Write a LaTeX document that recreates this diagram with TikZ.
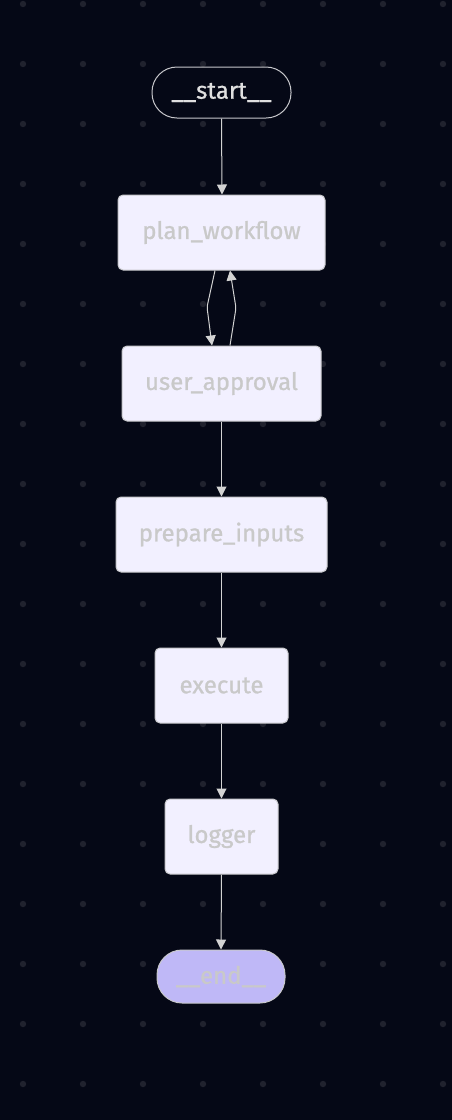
\documentclass[tikz,border=0pt]{standalone}
\usepackage{fontspec}
\newfontfamily\nodefont{Fira Sans}[FakeBold=0.9]
\usetikzlibrary{arrows.meta,calc}
\definecolor{bg}{HTML}{050816}
\definecolor{dotc}{HTML}{20222E}
\definecolor{nodefill}{HTML}{F2F0FF}
\definecolor{nodeline}{HTML}{C8C8CC}
\definecolor{nodetext}{HTML}{C9C9C9}
\definecolor{endfill}{HTML}{BFB8F7}
\definecolor{edgec}{HTML}{D3D3D3}
\begin{document}
\begin{tikzpicture}[x=1pt,y=-1pt,
  box/.style={draw=nodeline, line width=1pt, fill=nodefill, rounded corners=5pt,
    minimum height=75pt, text=nodetext, font=\nodefont\fontsize{24}{28}\selectfont, inner sep=0pt},
  term/.style={draw=nodeline, line width=1pt, rounded corners=25pt,
    text=nodetext, font=\nodefont\fontsize{24}{28}\selectfont, inner sep=0pt},
  edge/.style={draw=edgec, line width=1pt, -{Triangle[length=10pt,width=10pt]}, rounded corners=2pt}]
\fill[bg] (0,0) rectangle (452,1120);
\useasboundingbox (0,0) rectangle (452,1120);
\foreach \i in {0,...,7}{
  \foreach \j in {0,...,18}{
    \fill[dotc] (23+60*\i,4+60*\j) circle (3.2);
  }
}
\node[term, minimum width=139pt, minimum height=51pt, text=white!88!black] (start) at (221.5,92.5) {\_\_start\_\_};
\node[box, minimum width=207pt] (plan) at (221.5,232.5) {plan\_workflow};
\node[box, minimum width=199pt] (user) at (221.5,383.5) {user\_approval};
\node[box, minimum width=211pt] (prep) at (221.5,534.5) {prepare\_inputs};
\node[box, minimum width=133pt] (exec) at (221.5,685.5) {execute};
\node[box, minimum width=113pt] (logger) at (221.5,836.5) {logger};
\node[term, fill=endfill, minimum width=128pt, minimum height=53pt] (end) at (221,976.5) {\_\_end\_\_};
\coordinate (m1) at (207,307);
\coordinate (m2) at (236,308);
\draw[edge] (start.south) -- ([xshift=0.5pt]plan.north);
\draw[edge] ([xshift=-6.5pt]plan.south) -- (m1) -- ([xshift=-9.5pt]user.north);
\draw[edge] ([xshift=8.5pt]user.north) -- (m2) -- ([xshift=8.5pt]plan.south);
\draw[edge] (user.south) -- (prep.north);
\draw[edge] (prep.south) -- (exec.north);
\draw[edge] (exec.south) -- (logger.north);
\draw[edge] (logger.south) -- (end.north);
\end{tikzpicture}
\end{document}
